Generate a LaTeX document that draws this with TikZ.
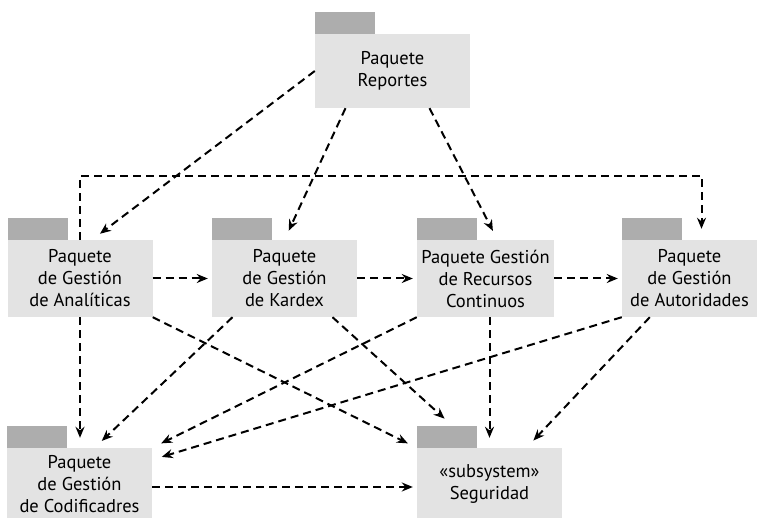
\documentclass[tikz,border=0pt]{standalone}
\usepackage{fontspec}
\setmainfont{PT Sans}
\usetikzlibrary{arrows.meta}

\definecolor{pkgbody}{HTML}{E3E3E3}
\definecolor{pkgtab}{HTML}{ADADAD}

\begin{document}
\begin{tikzpicture}[x=1pt,y=1pt,
 pkg/.style={rectangle,fill=pkgbody,minimum width=145pt,minimum height=77pt,
   inner sep=1pt,align=center,font=\fontsize{18.5}{22}\selectfont},
 pkgtab/.style={rectangle,fill=pkgtab,minimum width=60pt,minimum height=22pt,
   inner sep=0pt,anchor=south west},
 dep/.style={dash pattern=on 8pt off 5pt,line width=2pt,
   -{Stealth[length=11pt,width=9pt]},shorten >=10pt}]

  \useasboundingbox (0,0) rectangle (757,-518);

  \node[pkg,minimum width=155pt,minimum height=74pt] (rep) at (392.5,-71) {Paquete\\Reportes};
  \node[pkg] (ana) at (80,-278.5) {Paquete\\de Gestión\\de Analíticas};
  \node[pkg] (kar) at (284.5,-278.5) {Paquete\\de Gestión\\de Kardex};
  \node[pkg,minimum width=137pt] (rec) at (485.5,-278.5) {Paquete Gestión\\de Recursos\\Continuos};
  \node[pkg,minimum width=135pt] (aut) at (689.5,-278.5) {Paquete\\de Gestión\\de Autoridades};
  \node[pkg,minimum height=72pt] (cod) at (79.5,-484) {Paquete\\de Gestión\\de Codificadres};
  \node[pkg,minimum height=72pt] (seg) at (489.5,-484) {«subsystem»\\Seguridad};

  \foreach \n in {rep,ana,kar,rec,aut,cod,seg}
   \node[pkgtab] (\n-tab) at (\n.north west) {};

  % from Reportes
  \draw[dep] (rep.west) -- ([xshift=12pt]ana.north);
  \draw[dep] ([xshift=-47pt]rep.south) -- (kar.north);
  \draw[dep] ([xshift=37pt]rep.south) -- ([xshift=12pt]rec.north);

  \draw[dep,shorten >=11pt] (ana.north) -- ++(0,64) -| ([xshift=12pt]aut.north);

  \foreach \s/\t in {ana/kar, kar/rec, rec/aut} {
   \draw[dep,shorten >=4pt] (\s.east) -- (\t.west);}
  \draw[dep,shorten >=4pt] ([yshift=-3pt]cod.east) -- ([yshift=-3pt]seg.west);

  \draw[dep] (ana.south) -- (ana.south |- cod.north);
  \draw[dep] (ana.south east) -- (seg.north west);
  \draw[dep] ([xshift=-52pt]kar.south) -- ([xshift=15pt]cod.north);
  \draw[dep] ([xshift=48pt]kar.south) -- ([xshift=5pt]seg-tab.north);
  \draw[dep] (rec.south west) -- (cod.north east);
  \draw[dep] (rec.south -| seg.north) -- (seg.north);
  \draw[dep] (aut.south west) -- ([yshift=-12pt]cod.north east);
  \draw[dep] ([xshift=28pt]aut.south west) -- ([xshift=37pt]seg.north);
\end{tikzpicture}
\end{document}
